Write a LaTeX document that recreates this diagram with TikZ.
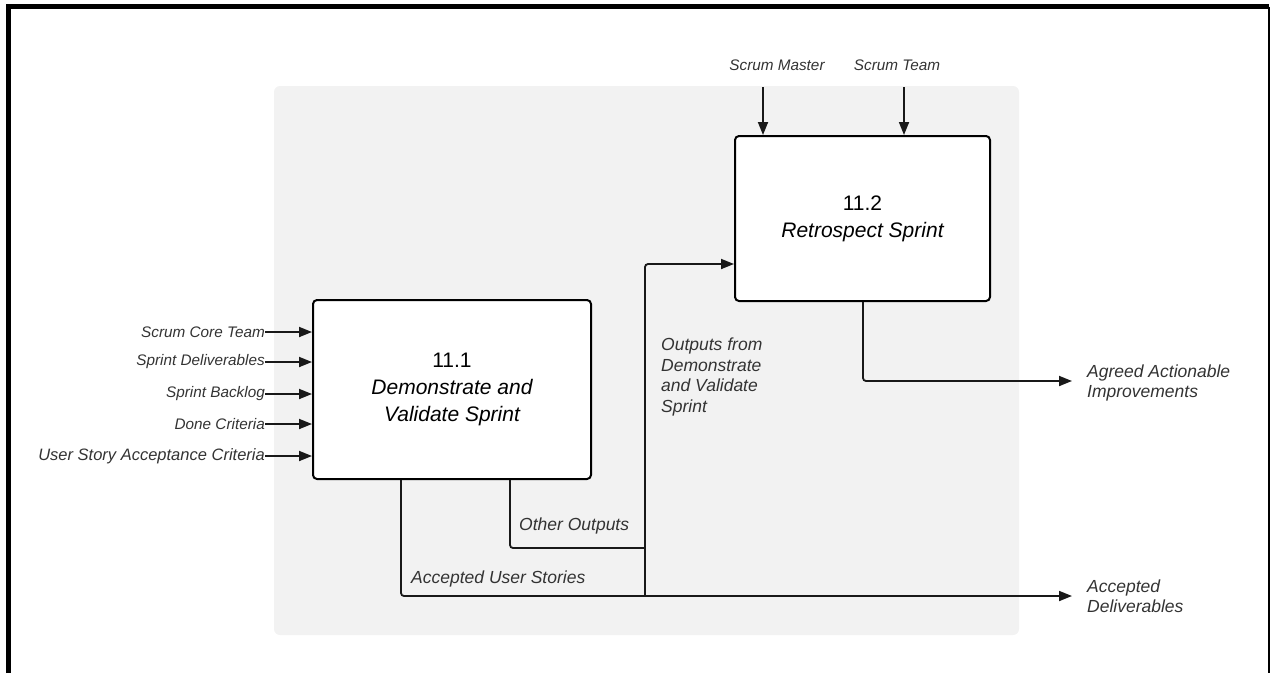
\documentclass[tikz,border=0pt]{standalone}
\usepackage{fontspec}
\setmainfont{Liberation Sans}
\usetikzlibrary{arrows.meta}
\definecolor{bggray}{HTML}{F2F2F2}
\definecolor{txt}{HTML}{333333}
\tikzset{
  lbl/.style={inner sep=0pt, text=txt, font=\fontsize{15.3}{18}\selectfont\itshape},
  olbl/.style={inner sep=0pt, text=txt, align=left, font=\fontsize{17.5}{20.5}\selectfont\itshape},
  proc/.style={draw=black, line width=2pt, fill=white, rounded corners=4pt, align=center, text=black, font=\fontsize{21}{27}\selectfont},
  conn/.style={draw=black!90, line width=1.8pt, rounded corners=3pt},
  arr/.style={conn, -{Triangle[length=13pt,width=10pt]}}
}
\begin{document}
\begin{tikzpicture}[x=1pt,y=-1pt]
\useasboundingbox (0,0) rectangle (1272,673);
% frame
\draw[line width=4.5pt] (8.5,673) -- (8.5,6.5) -- (1269,6.5);
\draw[line width=2.5pt] (1268.8,6.5) -- (1268.8,673);
% background panel
\fill[bggray, rounded corners=6pt] (274,86) rectangle (1019,635);
% process boxes
\node[proc, minimum width=278pt, minimum height=179pt] (b1) at (452,389.5)
  {11.1\\\itshape Demonstrate and\\\itshape Validate Sprint};
\node[proc, minimum width=255pt, minimum height=165pt] (b2) at (862.5,218.5)
  {11.2\\\itshape Retrospect Sprint};
% inputs to 11.1
\node[lbl, anchor=east] (i1) at (265,332) {Scrum Core Team};
\node[lbl, anchor=east] (i2) at (265,362) {Sprint Deliverables};
\node[lbl, anchor=east] (i3) at (265,394) {Sprint Backlog};
\node[lbl, anchor=east] (i4) at (265,424) {Done Criteria};
\node[lbl, anchor=east, font=\fontsize{16.5}{20}\selectfont\itshape] (i5) at (265,456) {User Story Acceptance Criteria};
\foreach \n in {i1,i2,i3,i4,i5}
  \draw[arr] (\n.east) -- (b1.west |- \n.east);
% inputs to 11.2
\node[lbl] (sm) at (777,65) {Scrum Master};
\node[lbl] (st) at (897,65) {Scrum Team};
\coordinate (smt) at (763,87);
\coordinate (stt) at (904,87);
\draw[arr] (smt) -- (smt |- b2.north);
\draw[arr] (stt) -- (stt |- b2.north);
% outputs
\node[olbl, anchor=west] (aai) at (1087,383) {Agreed Actionable\\Improvements};
\node[olbl, anchor=west] (ad) at (1087,596) {Accepted\\Deliverables};
\coordinate (aaiend) at (1072,381);
\coordinate (adend) at (1072,596);
\coordinate (j1) at (645,596);
\coordinate (j2) at (645,548);
\draw[arr] (b2.south -| aaiend) ++(-209,0) coordinate (b2o) (b2o) |- (aaiend);
\draw[arr] ([xshift=-51pt]b1.south) |- (adend);
\draw[conn] ([xshift=58pt]b1.south) |- (j2);
\draw[arr] (j1) |- ([yshift=-45.5pt]b2.west);
% connector labels
\node[olbl, anchor=west] (oo) at (519,526) {Other Outputs};
\node[olbl, anchor=west] (aus) at (411,579) {Accepted User Stories};
\node[olbl, anchor=north west] (ofd) at (661,338) {Outputs from\\Demonstrate\\and Validate\\Sprint};
\end{tikzpicture}
\end{document}
